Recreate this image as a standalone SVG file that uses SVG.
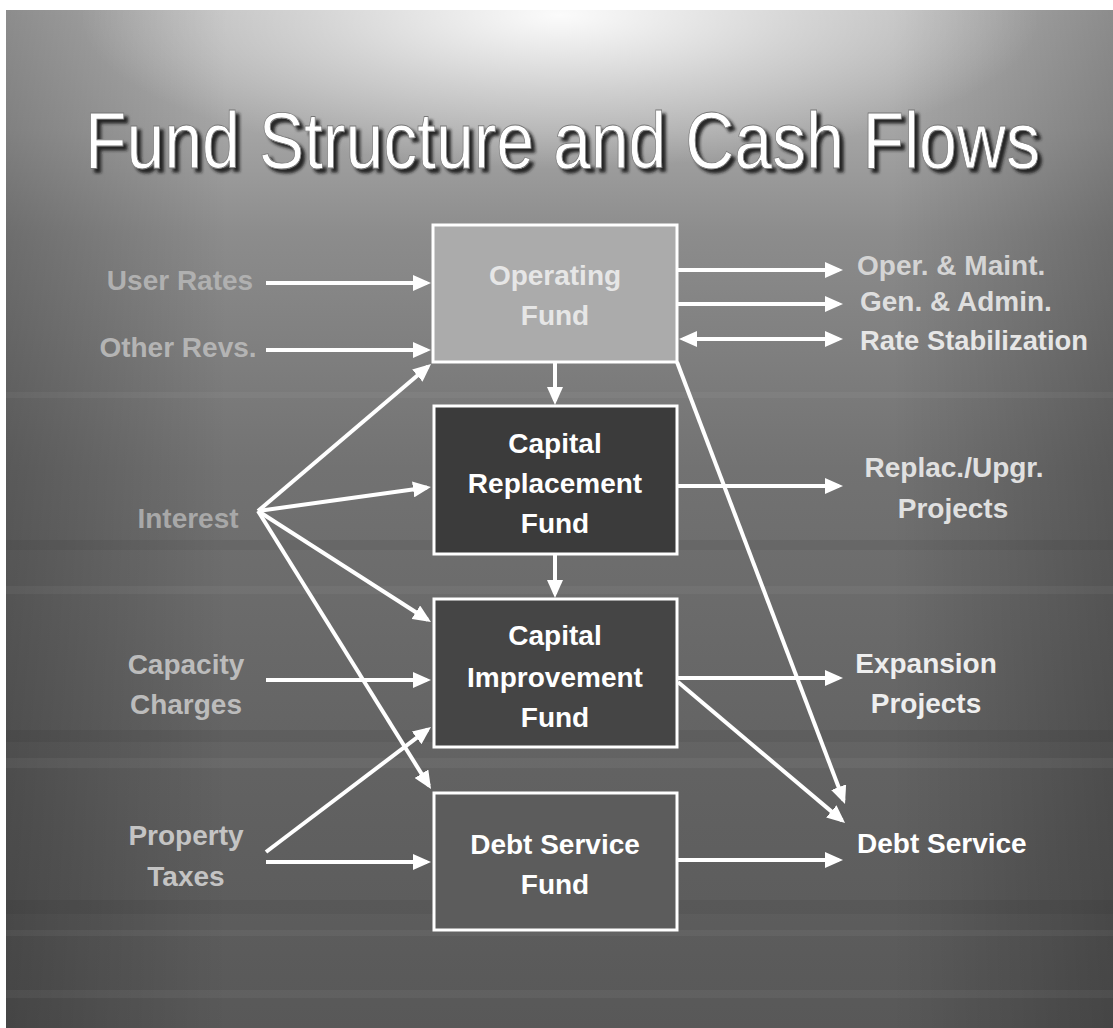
<svg xmlns="http://www.w3.org/2000/svg" width="1113" height="1028" viewBox="0 0 1113 1028">
<defs>
<linearGradient id="bgv" x1="0" y1="0" x2="0" y2="1">
<stop offset="0" stop-color="#b4b4b4"/>
<stop offset="0.12" stop-color="#a4a4a4"/>
<stop offset="0.22" stop-color="#8c8c8c"/>
<stop offset="0.45" stop-color="#727272"/>
<stop offset="0.75" stop-color="#626262"/>
<stop offset="1" stop-color="#585858"/>
</linearGradient>
<radialGradient id="hl" cx="560" cy="15" r="480" gradientUnits="userSpaceOnUse" gradientTransform="translate(560 15) scale(1 0.32) translate(-560 -15)">
<stop offset="0" stop-color="#ffffff" stop-opacity="0.95"/>
<stop offset="0.5" stop-color="#ffffff" stop-opacity="0.45"/>
<stop offset="1" stop-color="#ffffff" stop-opacity="0"/>
</radialGradient>
<linearGradient id="vig" x1="0" y1="0" x2="1" y2="0">
<stop offset="0" stop-color="#000" stop-opacity="0.22"/>
<stop offset="0.2" stop-color="#000" stop-opacity="0"/>
<stop offset="0.8" stop-color="#000" stop-opacity="0"/>
<stop offset="1" stop-color="#000" stop-opacity="0.22"/>
</linearGradient>
<marker id="ah" markerUnits="userSpaceOnUse" markerWidth="18" markerHeight="16" refX="14" refY="8" orient="auto-start-reverse">
<path d="M0,0 L18,8 L0,16 z" fill="#ffffff"/>
</marker>
<filter id="sh" x="-0.05" y="-0.3" width="1.1" height="1.6">
<feGaussianBlur in="SourceAlpha" stdDeviation="1.5"/>
<feOffset dx="4" dy="4" result="o"/>
<feFlood flood-color="#1a1a1a" flood-opacity="0.9"/>
<feComposite in2="o" operator="in"/>
<feMerge><feMergeNode/><feMergeNode in="SourceGraphic"/></feMerge>
</filter>
</defs>
<style>
.t{font-family:"Liberation Sans",Arial,sans-serif;font-weight:bold;font-size:28px}
.m{text-anchor:middle}
.box{stroke:#ffffff;stroke-width:3}
.c{stroke:#ffffff;stroke-width:4;fill:none;marker-end:url(#ah)}
</style>
<rect width="1113" height="1028" fill="#ffffff"/>
<rect x="6" y="10" width="1107" height="1018" fill="url(#bgv)"/>
<rect x="6" y="10" width="1107" height="1018" fill="url(#vig)"/>
<rect x="6" y="10" width="1107" height="300" fill="url(#hl)"/>
<g opacity="0.045" fill="#ffffff">
<rect x="6" y="392" width="1107" height="6"/>
<rect x="6" y="586" width="1107" height="8"/>
<rect x="6" y="758" width="1107" height="10"/>
<rect x="6" y="930" width="1107" height="6"/>
<rect x="6" y="990" width="1107" height="8"/>
</g>
<g opacity="0.05" fill="#000000">
<rect x="6" y="540" width="1107" height="10"/>
<rect x="6" y="730" width="1107" height="12"/>
<rect x="6" y="900" width="1107" height="14"/>
</g>
<g id="title" filter="url(#sh)">
<text transform="translate(85,168) scale(0.849,1)" x="0" y="0" font-family="'Liberation Sans',Arial,sans-serif" font-size="80" fill="#ffffff" stroke="#777" stroke-width="0.8">Fund Structure and Cash Flows</text>
</g>
<g id="connectors">
<path class="c" d="M266,283 L427,283"/>
<path class="c" d="M266,350 L427,350"/>
<path class="c" d="M258,511 L428,366.6"/>
<path class="c" d="M258,511 L427,487.5"/>
<path class="c" d="M258,511 L427.6,619.8"/>
<path class="c" d="M258,511 L428.9,785.6"/>
<path class="c" d="M266,680 L427,680"/>
<path class="c" d="M266,852 L427.8,729.4"/>
<path class="c" d="M266,862 L427,862"/>
<path class="c" d="M555,363 L555,401"/>
<path class="c" d="M555,555 L555,594"/>
<path class="c" d="M678,270 L839,270"/>
<path class="c" d="M678,304 L839,304"/>
<path class="c" d="M683,339 L839,339" style="marker-start:url(#ah)"/>
<path class="c" d="M677,362 L843.6,800.3"/>
<path class="c" d="M678,486 L839,486"/>
<path class="c" d="M678,678 L839,678"/>
<path class="c" d="M678,682 L842,820.4"/>
<path class="c" d="M678,860 L839,860"/>
</g>
<g id="operating-fund">
<rect class="box" x="433" y="225" width="244" height="137" fill="#ababab" stroke="#eeeeee"/>
<text class="t m" x="555" y="285" fill="#e6e6e6">Operating</text>
<text class="t m" x="555" y="325" fill="#e6e6e6">Fund</text>
</g>
<g id="capital-replacement-fund">
<rect class="box" x="434" y="406" width="243" height="148" fill="#3b3b3b"/>
<text class="t m" x="555" y="453" fill="#ffffff">Capital</text>
<text class="t m" x="555" y="493" fill="#ffffff">Replacement</text>
<text class="t m" x="555" y="533" fill="#ffffff">Fund</text>
</g>
<g id="capital-improvement-fund">
<rect class="box" x="434" y="599" width="243" height="148" fill="#454545"/>
<text class="t m" x="555" y="645" fill="#ffffff">Capital</text>
<text class="t m" x="555" y="687" fill="#ffffff">Improvement</text>
<text class="t m" x="555" y="727" fill="#ffffff">Fund</text>
</g>
<g id="debt-service-fund">
<rect class="box" x="434" y="793" width="243" height="137" fill="#5c5c5c"/>
<text class="t m" x="555" y="854" fill="#ffffff">Debt Service</text>
<text class="t m" x="555" y="894" fill="#ffffff">Fund</text>
</g>
<g id="user-rates"><text class="t m" x="180" y="290" fill="#b0b0b0">User Rates</text></g>
<g id="other-revs"><text class="t m" x="178" y="357" fill="#b4b4b4">Other Revs.</text></g>
<g id="interest"><text class="t m" x="188" y="528" fill="#a8a8a8">Interest</text></g>
<g id="capacity-charges">
<text class="t m" x="186" y="674" fill="#bcbcbc">Capacity</text>
<text class="t m" x="186" y="714" fill="#bcbcbc">Charges</text>
</g>
<g id="property-taxes">
<text class="t m" x="186" y="845" fill="#c4c4c4">Property</text>
<text class="t m" x="186" y="886" fill="#c4c4c4">Taxes</text>
</g>
<g id="oper-maint"><text class="t" x="857" y="275" fill="#d4d4d4">Oper. &amp; Maint.</text></g>
<g id="gen-admin"><text class="t" x="860" y="311" fill="#dedede">Gen. &amp; Admin.</text></g>
<g id="rate-stabilization"><text class="t" x="860" y="350" fill="#e6e6e6" textLength="228" lengthAdjust="spacingAndGlyphs">Rate Stabilization</text></g>
<g id="replac-upgr-projects">
<text class="t m" x="954" y="477" fill="#e0e0e0">Replac./Upgr.</text>
<text class="t m" x="953" y="518" fill="#e0e0e0">Projects</text>
</g>
<g id="expansion-projects">
<text class="t m" x="926" y="673" fill="#eeeeee">Expansion</text>
<text class="t m" x="926" y="713" fill="#eeeeee">Projects</text>
</g>
<g id="debt-service"><text class="t" x="857" y="853" fill="#ffffff">Debt Service</text></g>
</svg>
